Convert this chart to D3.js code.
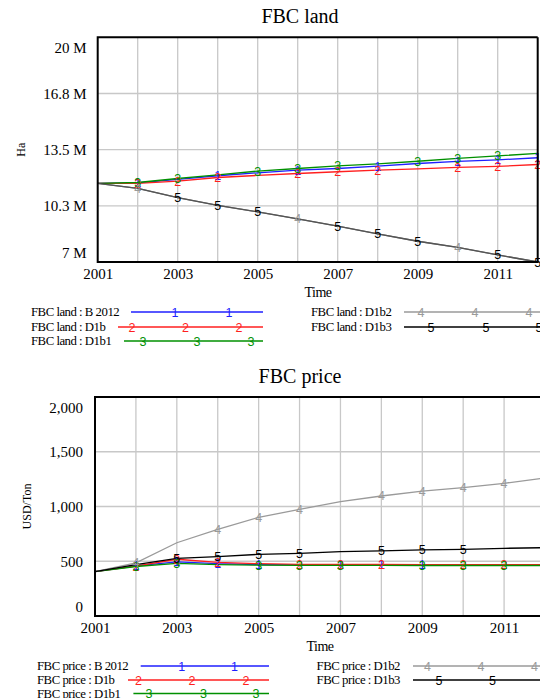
<!DOCTYPE html>
<html><head><meta charset="utf-8">
<script src="https://cdn.jsdelivr.net/npm/d3@7"></script>
<style>
html,body{margin:0;padding:0;background:#fff;overflow:hidden}
svg{display:block}
text{font-family:"Liberation Serif","Times New Roman",serif;fill:#000}
.mk{font-family:"Liberation Sans",Arial,sans-serif;font-size:12.5px}
</style></head>
<body>
<script>
// ---------- data ----------
const years = [2001,2002,2003,2004,2005,2006,2007,2008,2009,2010,2011,2012];
const xTickYears = [2001,2003,2005,2007,2009,2011];
const seriesNames = ["B 2012","D1b","D1b1","D1b2","D1b3"];
const seriesColors = ["#1f1fff","#ff1f1f","#009000","#9a9a9a","#000000"];

// FBC land (million Ha)
const land_B2012 = [11.55,11.58,11.78,11.99,12.16,12.31,12.41,12.55,12.70,12.82,12.91,13.03];
const land_D1b   = [11.55,11.55,11.68,11.89,12.01,12.12,12.22,12.31,12.39,12.47,12.53,12.64];
const land_D1b1  = [11.55,11.60,11.83,12.04,12.26,12.41,12.56,12.68,12.83,13.00,13.14,13.28];
const land_D1b2  = [11.55,11.26,10.73,10.28,9.90,9.50,9.07,8.63,8.20,7.85,7.41,7.00];
const land_D1b3  = [11.55,11.26,10.73,10.28,9.90,9.50,9.07,8.63,8.20,7.85,7.41,7.00];
const landTicks  = [7,10.25,13.5,16.75,20];
const landTickLabels = ["7 M","10.3 M","13.5 M","16.8 M","20 M"];

// FBC price (USD/Ton)
const price_B2012 = [405,457,495,478,470,468,467,467,466,466,466,466];
const price_D1b   = [405,455,518,490,478,472,472,471,470,470,470,470];
const price_D1b1  = [405,452,480,470,465,463,462,462,461,461,461,461];
const price_D1b2  = [405,485,669,792,901,974,1044,1096,1141,1172,1212,1260];
const price_D1b3  = [405,470,527,542,563,572,587,594,603,609,618,624];
const priceTicks  = [0,500,1000,1500,2000];
const priceTickLabels = ["0","500","1,000","1,500","2,000"];

// years carrying a number marker on each curve
const landMarkerYears  = [[2002,2004,2006,2008,2010,2011,2012],[2002,2003,2004,2006,2007,2008,2010,2011,2012],[2002,2003,2005,2006,2007,2009,2010,2011],[2002,2006,2010],[2003,2004,2005,2007,2008,2009,2011,2012]];
const priceMarkerYears = [[2002,2003,2004,2005,2007,2008,2009],[2002,2003,2004,2006,2007,2008,2010,2011],[2002,2003,2005,2006,2007,2009,2010,2011],[2002,2004,2005,2006,2008,2009,2010,2011],[2003,2004,2005,2006,2008,2009,2010]];

const svg = d3.select("body").append("svg").attr("width",540).attr("height",698);

function chart(cfg){
  const g = svg.append("g");
  const x = d3.scaleLinear().domain([2001,2012]).range([cfg.left,cfg.right]);
  const y = d3.scaleLinear().domain(cfg.domain).range([cfg.bottom,cfg.top]);
  // title
  g.append("text").attr("x",cfg.titleX).attr("y",cfg.top-14).attr("text-anchor","middle")
    .style("font-size","20px").text(cfg.title);
  // gridlines
  g.append("g").selectAll("line").data(years.slice(1,11)).join("line")
    .attr("x1",d=>x(d)).attr("x2",d=>x(d)).attr("y1",cfg.top).attr("y2",cfg.bottom)
    .attr("stroke","#c8c8c8").attr("stroke-width",1.3);
  g.append("g").selectAll("line").data(cfg.ticks.slice(1,-1)).join("line")
    .attr("x1",cfg.left).attr("x2",cfg.right).attr("y1",d=>y(d)).attr("y2",d=>y(d))
    .attr("stroke","#c8c8c8").attr("stroke-width",1.3);
  // y axis labels
  const ya = g.append("g").attr("transform",`translate(${cfg.left},0)`)
    .call(d3.axisLeft(y).tickValues(cfg.ticks).tickFormat((d,i)=>cfg.tickLabels[i]).tickSize(0).tickPadding(cfg.ypad));
  ya.select(".domain").remove();
  ya.selectAll("text").style("font-size","15px").style("font-family",'"Liberation Serif","Times New Roman",serif').attr("fill","#000")
    .attr("dy",(d,i)=> i===0 ? "-0.3em" : (i===cfg.ticks.length-1 ? "1.0em" : "0.32em"));
  // x axis labels
  const xa = g.append("g").attr("transform",`translate(0,${cfg.bottom})`)
    .call(d3.axisBottom(x).tickValues(xTickYears).tickFormat(d3.format("d")).tickSize(0).tickPadding(6));
  xa.select(".domain").remove();
  xa.selectAll("text").style("font-size","15px").style("font-family",'"Liberation Serif","Times New Roman",serif').attr("fill","#000");
  // axis titles
  g.append("text").attr("x",cfg.xTitleX).attr("y",cfg.bottom+35).attr("text-anchor","middle")
    .style("font-size","14px").style("letter-spacing","-0.5px").text("Time");
  g.append("text").attr("transform",`translate(${cfg.yTitleX},${(cfg.top+cfg.bottom)/2}) rotate(-90)`)
    .attr("text-anchor","middle").style("font-size","12px").text(cfg.yTitle);
  // lines (drawn in the order given so the shared decline reads dark grey)
  const line = d3.line().x((d,i)=>x(years[i])).y(d=>y(d));
  cfg.order.forEach(k=>{
    const s = cfg.series[k];
    g.append("path").datum(s).attr("d",line).attr("fill","none")
      .attr("stroke",seriesColors[k]).attr("stroke-width",1.3)
      .attr("stroke-opacity", cfg.fade && k===3 ? 0.55 : 1);
  });
  cfg.series.forEach((s,k)=>{
    g.append("g").selectAll("text").data(cfg.markers[k]).join("text").attr("class","mk")
      .attr("x",d=>x(d)).attr("y",d=>y(s[years.indexOf(d)])).attr("dy","0.36em")
      .attr("text-anchor","middle").style("fill",seriesColors[k]).text(k+1);
  });
  // frame
  g.append("path").attr("d",`M${cfg.right},${cfg.top}H${cfg.left}V${cfg.bottom}H${cfg.right}`+(cfg.closeRight?`V${cfg.top}`:""))
    .attr("fill","none").attr("stroke","#000").attr("stroke-width",2);
  // legend
  const L = cfg.legend;
  seriesNames.forEach((n,k)=>{
    const col = k<3 ? 0 : 1, row = k<3 ? k : k-3;
    const ly = L.rows[row];
    const tx = L.textX[col];
    g.append("text").attr("x",tx).attr("y",ly).attr("dy","0.35em").style("font-size","12.8px")
      .style("letter-spacing","-0.5px").text(`${cfg.title} : ${n}`);
    g.append("line").attr("x1",L.lineStart[k]).attr("x2",L.lineEnd[col]).attr("y1",ly).attr("y2",ly)
      .attr("stroke",seriesColors[k]).attr("stroke-width",1.5);
    g.append("g").selectAll("text").data(L.marks[k]).join("text").attr("class","mk")
      .attr("x",d=>d).attr("y",ly).attr("dy","0.36em").attr("text-anchor","middle")
      .style("fill",seriesColors[k]).text(k+1);
  });
}

chart({title:"FBC land", yTitle:"Ha", domain:[7,20], ticks:landTicks, tickLabels:landTickLabels,
  left:97.7, right:537.7, top:37.3, bottom:262, closeRight:true, titleX:300, xTitleX:318, yTitleX:25, ypad:11,
  order:[0,1,2,4,3], fade:true,
  series:[land_B2012,land_D1b,land_D1b1,land_D1b2,land_D1b3], markers:landMarkerYears,
  legend:{rows:[312,327,341], textX:[31,311], lineStart:[131,118,124,404,404], lineEnd:[263,560],
    marks:[[175,229],[132,185.5,239],[143,197,251],[421,475,529],[431,486,539]]}});

chart({title:"FBC price", yTitle:"USD/Ton", domain:[0,2000], ticks:priceTicks, tickLabels:priceTickLabels,
  left:95, right:545, top:397, bottom:616, closeRight:false, titleX:300, xTitleX:320, yTitleX:31, ypad:12,
  order:[0,1,2,3,4], fade:false,
  series:[price_B2012,price_D1b,price_D1b1,price_D1b2,price_D1b3], markers:priceMarkerYears,
  legend:{rows:[666,680,693.5], textX:[37,316.6], lineStart:[140.7,128,133.4,413,413], lineEnd:[269,560],
    marks:[[181.7,234.5],[138.6,192,245.9],[149,203.4,256],[427.6,481,534.5],[439,492.4]]}});
</script>
</body></html>
